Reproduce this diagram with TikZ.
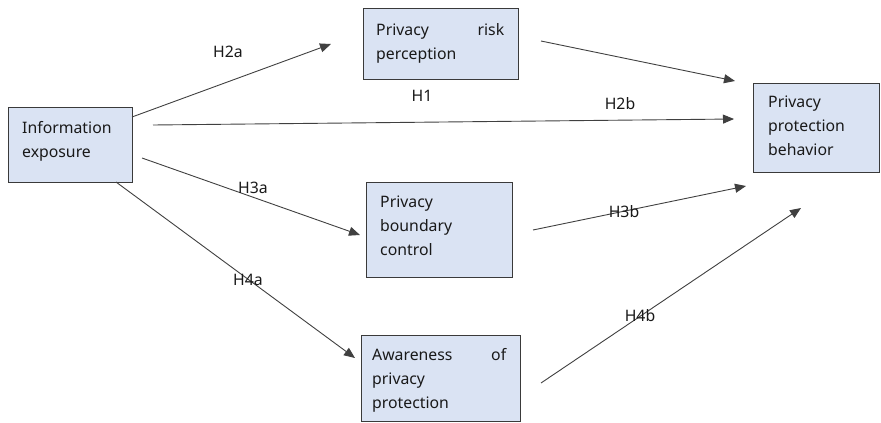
\documentclass[tikz,border=0pt]{standalone}
\usepackage{fontspec}
\setmainfont{Noto Sans}
\usetikzlibrary{arrows.meta}
\definecolor{boxfill}{HTML}{DAE3F3}
\definecolor{boxline}{HTML}{3A3A3A}
\definecolor{arrline}{HTML}{404040}
\tikzset{
  box/.style={draw=boxline, fill=boxfill, line width=1pt, rectangle, inner sep=0pt},
  boxtext/.style={anchor=base west, inner sep=0pt, align=left, text width=100pt, text=black!90, font=\fontsize{15.8}{24}\selectfont},
  conn/.style={draw=arrline, line width=0.9pt, -{Triangle[length=11pt,width=9pt]}},
  lab/.style={inner sep=0pt, font=\fontsize{15.8}{24}\selectfont, text=black!90}
}
\begin{document}
\begin{tikzpicture}[x=1pt,y=-1pt]
\useasboundingbox (0,0) rectangle (881,423);
% boxes
\node[box, minimum width=124pt, minimum height=75pt] (info) at (70,144.5) {};
\node[box, minimum width=155pt, minimum height=71pt] (risk) at (440.5,43.5) {};
\node[box, minimum width=126pt, minimum height=89pt] (beh) at (816,127.5) {};
\node[box, minimum width=146pt, minimum height=95pt] (bound) at (439,229.5) {};
\node[box, minimum width=159pt, minimum height=86pt] (aware) at (440.5,378) {};
% texts
\node[boxtext] (infot) at (22,133) {Information\\exposure};
\node[boxtext, text width=128pt] (riskt) at (376,35) {Privacy\hfill risk\\perception};
\node[boxtext] (beht) at (768,107) {Privacy\\protection\\behavior};
\node[boxtext] (boundt) at (380,207) {Privacy\\boundary\\control};
\node[boxtext, text width=134pt] (awaret) at (372,360) {Awareness\hfill of\\privacy\\protection};
% connector end points
\coordinate (a1) at (132,117); \coordinate (b1) at (331,44);
\coordinate (a2) at (541,41);  \coordinate (b2) at (735,81);
\coordinate (a3) at (153,125); \coordinate (b3) at (734,119);
\coordinate (a4) at (142,158); \coordinate (b4) at (360,235);
\coordinate (a5) at (533,230); \coordinate (b5) at (746,186);
\coordinate (a6) at (116,182); \coordinate (b6) at (355,358);
\coordinate (a7) at (541,383); \coordinate (b7) at (801,208);
\draw[conn] (a1) -- (b1);
\draw[conn] (a2) -- (b2);
\draw[conn] (a3) -- (b3);
\draw[conn] (a4) -- (b4);
\draw[conn] (a5) -- (b5);
\draw[conn] (a6) -- (b6);
\draw[conn] (a7) -- (b7);
% labels
\node[lab] (l2a) at (228,52) {H2a};
\node[lab] (l1) at (422,96) {H1};
\node[lab] (l2b) at (620,104) {H2b};
\node[lab] (l3a) at (253,188) {H3a};
\node[lab] (l3b) at (624,212) {H3b};
\node[lab] (l4a) at (248,280) {H4a};
\node[lab] (l4b) at (640,316) {H4b};
\end{tikzpicture}
\end{document}
